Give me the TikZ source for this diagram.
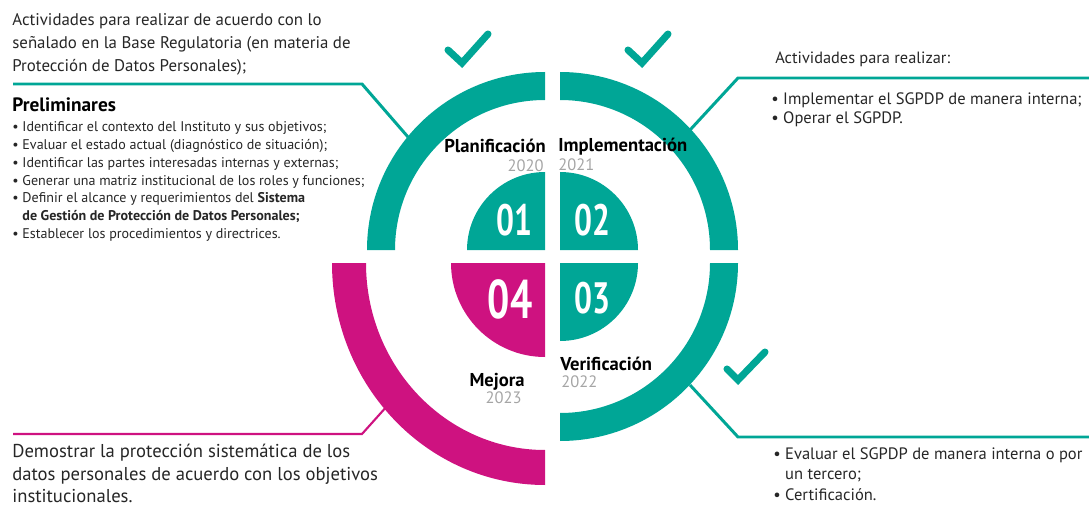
\documentclass[tikz,border=0pt]{standalone}
\usepackage{fontspec}
\setmainfont{PT Sans}
\usetikzlibrary{calc}

\definecolor{verde}{RGB}{0,166,150}
\definecolor{rosa}{RGB}{206,18,128}
\definecolor{gris}{RGB}{165,165,165}

\begin{document}
\begin{tikzpicture}[x=0.02cm, y=-0.02cm,
    texto/.style={anchor=north west, align=left, inner sep=0pt, text=black!85, font=\fontsize{9.6}{13}\selectfont},
    lista/.style={anchor=north west, align=left, inner sep=0pt, text=black!85, font=\fontsize{8}{10.2}\selectfont},
    fase/.style={inner sep=0pt, font=\fontsize{10.6}{11}\selectfont\bfseries},
    anio/.style={inner sep=0pt, text=gris, font=\fontsize{9.4}{10}\selectfont},
    numero/.style={inner sep=0pt, text=white, xscale=0.72, font=\fontsize{25}{25}\selectfont\bfseries},
    linea/.style={line width=1.7pt, verde},
    paloma/.style={line width=4pt, verde, line cap=round}
]
\useasboundingbox (0,0) rectangle (1089,510);

% esquinas de los cuadrantes
\coordinate (c1) at (545,250);
\coordinate (c2) at (560,250);
\coordinate (c3) at (560,263);
\coordinate (c4) at (545,263);

% anillo y sectores verdes
\foreach \c/\a in {c1/180, c2/270, c3/0} {
    \fill[verde] (\c) ++(\a:178) arc[start angle=\a, delta angle=90, radius=178]
        -- ($(\c)+(\a+90:150)$) arc[start angle=\a+90, delta angle=-90, radius=150] -- cycle;
    \fill[verde] (\c) -- ++(\a:78) arc[start angle=\a, delta angle=90, radius=78] -- cycle;
}

% anillo y sector de mejora
\fill[rosa] (c4) ++(-213,0) arc[start angle=180, end angle=90, x radius=213, y radius=222]
    -- ++(0,-35) arc[start angle=90, end angle=180, x radius=179, y radius=187] -- cycle;
\fill[rosa] (c4) -- ++(180:94) arc[start angle=180, end angle=90, radius=94] -- cycle;

% numeros
\node[numero] (n01) at (514,220) {01};
\node[numero] (n02) at (592,220) {02};
\node[numero] (n03) at (592,298) {03};
\node[numero, font=\fontsize{31}{31}\selectfont\bfseries] (n04) at (510,299) {04};

% fases y anios
\node[fase, anchor=base east] (plan) at (546,153) {Planificación};
\node[anio, anchor=base east] (a2020) at (544,172) {2020};
\node[fase, anchor=base west] (impl) at (558,152) {Implementación};
\node[anio, anchor=base west] (a2021) at (558,171) {2021};
\node[fase, anchor=base west] (veri) at (560,370) {Verificación};
\node[anio, anchor=base west] (a2022) at (561,387) {2022};
\node[fase, anchor=base east] (mejora) at (525,386) {Mejora};
\node[anio, anchor=base east] (a2023) at (522,403) {2023};

% palomas
\draw[paloma] (448,50) -- (462,63) -- (488,34);
\draw[paloma] (628,50) -- (642,63) -- (668,34);
\draw[paloma] (727,369) -- (738,380) -- (765,352);

% textos
\node[texto] (planTxt) at (12,13) {Actividades para realizar de acuerdo con lo\\señalado en la Base Regulatoria (en materia de\\Protección de Datos Personales);};
\node[anchor=north west, inner sep=0pt, font=\fontsize{11}{12}\selectfont\bfseries] (prelim) at (12,97) {Preliminares};
\node[lista] (prelimLista) at (12,121) {\textbullet\ Identificar el contexto del Instituto y sus objetivos;\\
\textbullet\ Evaluar el estado actual (diagnóstico de situación);\\
\textbullet\ Identificar las partes interesadas internas y externas;\\
\textbullet\ Generar una matriz institucional de los roles y funciones;\\
\textbullet\ Definir el alcance y requerimientos del \textbf{Sistema}\\
\phantom{\textbullet\ }\textbf{de Gestión de Protección de Datos Personales;}\\
\textbullet\ Establecer los procedimientos y directrices.};
\node[texto, font=\fontsize{9.3}{12}\selectfont] (implTit) at (775,52) {Actividades para realizar:};
\node[texto, font=\fontsize{9.4}{11.3}\selectfont] (implTxt) at (771,92) {\textbullet\ Implementar el SGPDP de manera interna;\\\textbullet\ Operar el SGPDP.};
\node[texto, font=\fontsize{9.4}{11.8}\selectfont] (veriTxt) at (773,447) {\textbullet\ Evaluar el SGPDP de manera interna o por\\\phantom{\textbullet\ }un tercero;\\\textbullet\ Certificación.};
\node[texto, font=\fontsize{10.6}{12.7}\selectfont] (mejoraTxt) at (12,444) {Demostrar la protección sistemática de los\\datos personales de acuerdo con los objetivos\\institucionales.};

% lineas de conexion
\coordinate (p1) at (13,84);   \coordinate (p2) at (362,84);  \coordinate (p3) at (408,137);
\coordinate (i1) at (1089,78); \coordinate (i2) at (738,78);  \coordinate (i3) at (690,130);
\coordinate (v1) at (1089,437);\coordinate (v2) at (738,437); \coordinate (v3) at (690,385);
\coordinate (m1) at (13,434);  \coordinate (m2) at (362,434); \coordinate (m3) at (388,405);
\draw[linea] (p1) -- (p2) -- (p3);
\draw[linea] (i1) -- (i2) -- (i3);
\draw[linea] (v1) -- (v2) -- (v3);
\draw[linea, rosa, line width=1.2pt] (m1) -- (m2) -- (m3);

\end{tikzpicture}
\end{document}
